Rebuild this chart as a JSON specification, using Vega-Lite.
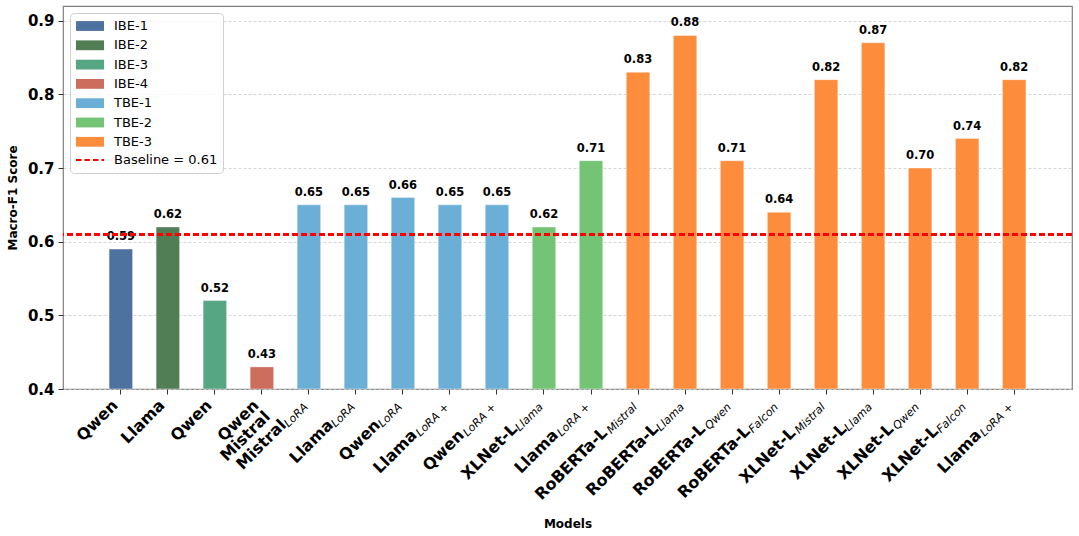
{
  "$schema": "https://vega.github.io/schema/vega-lite/v6.json",
  "width": 1009,
  "height": 383,
  "autosize": "none",
  "padding": {"left": 63, "top": 6, "right": 7, "bottom": 147},
  "config": {"font": "DejaVu Sans", "view": {"stroke": "#808080", "strokeWidth": 1.2}},
  "data": {
    "values": [
      {"key": "01|Qwen|", "sub": "", "group": "IBE-1", "score": 0.59},
      {"key": "02|Llama|", "sub": "", "group": "IBE-2", "score": 0.62},
      {"key": "03|Qwen|", "sub": "", "group": "IBE-3", "score": 0.52},
      {"key": "04|Qwen~Mistral|", "sub": "", "group": "IBE-4", "score": 0.43},
      {"key": "05|Mistral|LoRA", "sub": "LoRA", "group": "TBE-1", "score": 0.65},
      {"key": "06|Llama|LoRA", "sub": "LoRA", "group": "TBE-1", "score": 0.65},
      {"key": "07|Qwen|LoRA", "sub": "LoRA", "group": "TBE-1", "score": 0.66},
      {"key": "08|Llama|LoRA +", "sub": "LoRA +", "group": "TBE-1", "score": 0.65},
      {"key": "09|Qwen|LoRA +", "sub": "LoRA +", "group": "TBE-1", "score": 0.65},
      {"key": "10|XLNet-L|Llama", "sub": "Llama", "group": "TBE-2", "score": 0.62},
      {"key": "11|Llama|LoRA +", "sub": "LoRA +", "group": "TBE-2", "score": 0.71},
      {"key": "12|RoBERTa-L|Mistral", "sub": "Mistral", "group": "TBE-3", "score": 0.83},
      {"key": "13|RoBERTa-L|Llama", "sub": "Llama", "group": "TBE-3", "score": 0.88},
      {"key": "14|RoBERTa-L|Qwen", "sub": "Qwen", "group": "TBE-3", "score": 0.71},
      {"key": "15|RoBERTa-L|Falcon", "sub": "Falcon", "group": "TBE-3", "score": 0.64},
      {"key": "16|XLNet-L|Mistral", "sub": "Mistral", "group": "TBE-3", "score": 0.82},
      {"key": "17|XLNet-L|Llama", "sub": "Llama", "group": "TBE-3", "score": 0.87},
      {"key": "18|XLNet-L|Qwen", "sub": "Qwen", "group": "TBE-3", "score": 0.70},
      {"key": "19|XLNet-L|Falcon", "sub": "Falcon", "group": "TBE-3", "score": 0.74},
      {"key": "20|Llama|LoRA +", "sub": "LoRA +", "group": "TBE-3", "score": 0.82}
    ]
  },
  "layer": [
    {
      "mark": {"type": "bar", "stroke": "white", "strokeWidth": 0.8, "strokeOpacity": 0.5},
      "encoding": {
        "x": {
          "field": "key", "type": "nominal", "sort": null, "title": "Models",
          "scale": {"paddingInner": 0.5, "paddingOuter": 0.98},
          "axis": {
            "labelAngle": -45, "labelAlign": "right", "labelBaseline": "bottom",
            "labelFontSize": 16, "labelFontWeight": "bold", "labelColor": "black",
            "labelPadding": 14, "labelOffset": 0, "tickSize": 5, "tickColor": "#333333",
            "domain": false, "labelOverlap": false, "labelLimit": 400, "labelBound": false,
            "labelLineHeight": 16,
            "labelExpr": "split(split(datum.value,'|')[1] + (split(datum.value,'|')[2]=='LoRA' ? '\u00a0\u00a0\u00a0\u00a0\u00a0' : split(datum.value,'|')[2]=='LoRA +' ? '\u00a0\u00a0\u00a0\u00a0\u00a0\u00a0\u00a0\u2009' : split(datum.value,'|')[2]=='Llama' ? '\u00a0\u00a0\u00a0\u00a0\u00a0\u00a0' : split(datum.value,'|')[2]=='Mistral' ? '\u00a0\u00a0\u00a0\u00a0\u00a0\u00a0\u00a0' : split(datum.value,'|')[2]=='Qwen' ? '\u00a0\u00a0\u00a0\u00a0\u00a0\u00a0' : split(datum.value,'|')[2]=='Falcon' ? '\u00a0\u00a0\u00a0\u00a0\u00a0\u00a0\u2009' : '') + '\u200b', '~')",
            "titleFontSize": 12, "titleFontWeight": "bold", "titleColor": "black", "titlePadding": 16
          }
        },
        "y": {
          "field": "score", "type": "quantitative", "title": "Macro-F1 Score",
          "scale": {"domain": [0.4, 0.92], "zero": false, "nice": false},
          "axis": {
            "values": [0.4, 0.5, 0.6, 0.7, 0.8, 0.9], "format": ".1f",
            "labelFontSize": 15, "labelFontWeight": "bold", "labelColor": "black",
            "tickSize": 5, "tickColor": "#333333", "labelPadding": 4, "domain": false,
            "grid": true, "gridDash": [3, 2], "gridColor": "#cccccc", "gridWidth": 0.8,
            "titleFontSize": 12, "titleFontWeight": "bold", "titleColor": "black", "titlePadding": 8
          }
        },
        "y2": {"datum": 0.4},
        "color": {
          "field": "group", "type": "nominal",
          "scale": {
            "domain": ["IBE-1", "IBE-2", "IBE-3", "IBE-4", "TBE-1", "TBE-2", "TBE-3", "Baseline = 0.61"],
            "range": ["#4E729F", "#527E56", "#56A583", "#CC6D5D", "#6BAED6", "#74C476", "#FD8D3C", "#FF0000"]
          },
          "legend": {
            "title": null, "orient": "top-left", "offset": 6.5,
            "labelFontSize": 13, "labelColor": "black", "labelLimit": 300,
            "symbolSize": 196, "symbolStrokeWidth": 2, "symbolOffset": 7, "labelOffset": 16,
            "rowPadding": 1.3, "padding": 5,
            "symbolType": {"expr": "datum.value == 'Baseline = 0.61' ? 'M-2,0H2' : 'M-2,-0.7H2V0.7H-2Z'"},
            "symbolStrokeColor": {"expr": "datum.value == 'Baseline = 0.61' ? '#ff0000' : 'transparent'"},
            "symbolDash": {"expr": "datum.value == 'Baseline = 0.61' ? [5.5, 3] : [1, 0]"},
            "strokeColor": "#d0d0d0", "fillColor": "rgba(255,255,255,0.8)", "cornerRadius": 4
          }
        }
      }
    },
    {
      "mark": {"type": "text", "fontWeight": "bold", "fontSize": 11.5, "baseline": "alphabetic", "dy": -9, "color": "black"},
      "encoding": {
        "x": {"field": "key", "type": "nominal", "sort": null},
        "y": {"field": "score", "type": "quantitative"},
        "text": {"field": "score", "type": "quantitative", "format": ".2f"}
      }
    },
    {
      "mark": {"type": "text", "fontStyle": "italic", "fontSize": 11.2, "align": "right", "baseline": "alphabetic", "angle": -45, "dx": -13.4, "dy": 13, "color": "black"},
      "encoding": {
        "x": {"field": "key", "type": "nominal", "sort": null},
        "y": {"datum": 0.4, "type": "quantitative"},
        "text": {"field": "sub"}
      }
    },
    {
      "mark": {"type": "rule", "color": "#ff0000", "strokeDash": [6, 3], "strokeWidth": 2, "opacity": 0.9},
      "encoding": {"y": {"datum": 0.61, "type": "quantitative"}}
    }
  ]
}
